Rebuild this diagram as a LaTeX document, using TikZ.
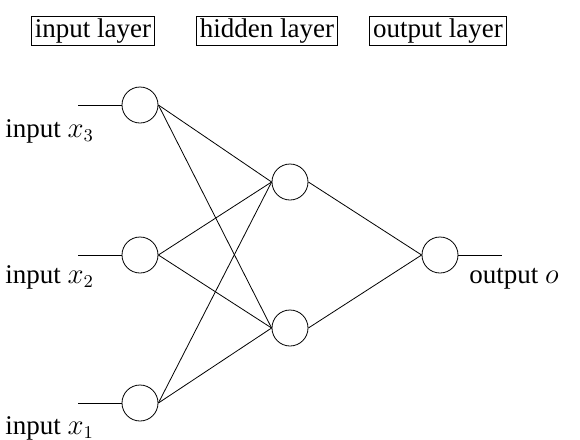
\documentclass[tikz,border=0pt]{standalone}
\usepackage{fontspec}
\setmainfont{Liberation Serif}
\tikzset{
  neuron/.style={draw,circle,minimum size=18pt,inner sep=0pt},
  layerbox/.style={draw,inner xsep=1.8pt,inner ysep=1.2pt}
}
\begin{document}
\begin{tikzpicture}[x=0.5pt,y=-0.5pt,font=\fontsize{13.5}{15}\selectfont]
    \useasboundingbox (0,0) rectangle (580,440);
    % layer titles
    \node[layerbox] (linput) at (93,31) {input layer};
    \node[layerbox] (lhidden) at (267,31) {hidden layer};
    \node[layerbox] (loutput) at (438,31) {output layer};
    % neurons
    \node[neuron] (in3) at (140,105) {};
    \node[neuron] (in2) at (140,255) {};
    \node[neuron] (in1) at (140,403) {};
    \node[neuron] (hid2) at (290,182) {};
    \node[neuron] (hid1) at (290,328) {};
    \node[neuron] (out) at (440,255) {};
    % inputs and output
    \foreach \i/\y in {1/403,2/255,3/105} {
      \coordinate (x\i) at (78,\y);
      \draw (x\i) -- (in\i);
    }
    \coordinate (oend) at (502,255);
    \draw (out) -- (oend);
    % weights
    \foreach \i in {1,2,3}
      \foreach \j in {1,2}
        \draw (in\i.east) -- (hid\j.west);
    \foreach \j in {1,2}
      \draw (hid\j.east) -- (out.west);
    % labels
    \node[anchor=west,inner sep=0pt] (lx3) at (5,131) {input $x_3$};
    \node[anchor=west,inner sep=0pt] (lx2) at (5,277) {input $x_2$};
    \node[anchor=west,inner sep=0pt] (lx1) at (5,428) {input $x_1$};
    \node[anchor=west,inner sep=0pt] (lo) at (469,279) {output $o$};
  \end{tikzpicture}
\end{document}
